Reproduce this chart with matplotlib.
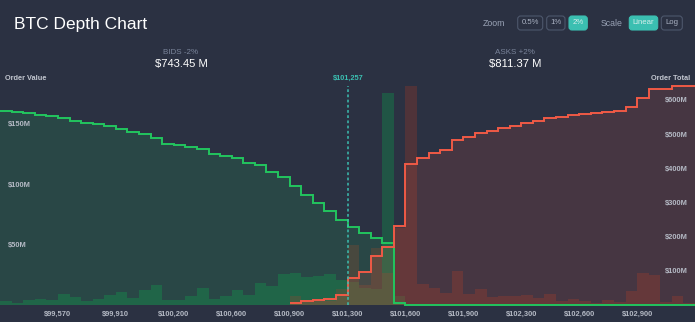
import numpy as np
import matplotlib.pyplot as plt
from matplotlib.patches import FancyBboxPatch

plt.rcParams['font.family'] = ['Liberation Sans', 'DejaVu Sans']

# --- data -------------------------------------------------------------
mid_price = 101257
depth = 0.02          # +/- 2 % window
n_bins = 60

# order value per price bin, $M
bid_vol = [0.85, 0.57, 1.2, 1.3, 1.2, 2.65, 1.9, 1.05, 1.35, 2.3,
           2.95, 1.6, 3.4, 4.6, 1.1, 1.2, 2.2, 4.0, 1.3, 2.1,
           3.5, 2.41, 5.14, 4.51, 7.31, 7.55, 6.47, 6.85, 7.17, 5.77,
           5.3, 3.9, 3.8, 49.6, 2.0] + [0.0] * 25
ask_vol = [0.0] * 25 + [
           7.0, 3.5, 3.0, 3.0, 13.5,
           49.6, 16.5, 47.0, 26.0, 63.0, 180.0, 17.0, 14.0, 10.0, 28.0,
           9.0, 13.0, 6.5, 7.3, 7.6, 8.0, 6.0, 9.0, 3.0, 5.0,
           3.0, 2.0, 4.5, 2.3, 11.5, 26.6, 25.0, 2.3, 7.0, 1.5]

tick_labels = ['$99,570', '$99,910', '$100,200', '$100,600', '$100,900', '$101,300',
               '$101,600', '$101,900', '$102,300', '$102,600', '$102,900']
left_ticks = [50, 100, 150]
right_ticks = [100, 200, 300, 400, 500, 600]

bids_total = '$743.45 M'
asks_total = '$811.37 M'

# --- derived ----------------------------------------------------------
edges = np.linspace(mid_price * (1 - depth), mid_price * (1 + depth), n_bins + 1)
bid_vol = np.array(bid_vol)
ask_vol = np.array(ask_vol)
cum_bid = np.cumsum(bid_vol[::-1])[::-1]
cum_ask = np.cumsum(ask_vol)
first_ask = int(np.argmax(ask_vol > 0))

BG = '#2b3142'
GREEN = '#22c55e'
RED = '#f05a46'
TEAL = '#3bbfb1'
W, H = 695, 322

fig = plt.figure(figsize=(W / 100, H / 100), dpi=100, facecolor=BG)

rect = [0, 17 / H, 1, 225 / H]
ax_l = fig.add_axes(rect)          # green fill, left scale
ax_r = ax_l.twinx()                # red fill, right scale
ax_bb = ax_l.twinx()               # bid bars
ax_ab = ax_l.twinx()               # ask bars
ax_gl = ax_l.twinx()               # green line
ax_rl = ax_l.twinx()               # red line
# bars sit under the cumulative fills, lines on top
for z, a in enumerate([ax_bb, ax_ab, ax_l, ax_r, ax_gl, ax_rl]):
    a.set_zorder(z + 1)
    a.patch.set_visible(False)
    for s in a.spines.values():
        s.set_visible(False)
    a.set_xlim(edges[0], edges[-1])

left_max = 186
right_max = 658
ax_l.set_ylim(0, left_max)
ax_gl.set_ylim(0, left_max)
ax_r.set_ylim(0, right_max)
ax_rl.set_ylim(0, right_max)
ax_bb.set_ylim(0, 52.6)
ax_ab.set_ylim(0, 185)

ax_bb.stairs(bid_vol, edges, fill=True, color='#1a6e48', alpha=0.6, lw=0)
ax_ab.stairs(ask_vol, edges, fill=True, color='#87372d', alpha=0.4, lw=0)
ax_l.stairs(cum_bid, edges, fill=True, color=GREEN, alpha=0.15, lw=0)
ax_r.stairs(cum_ask[first_ask:], edges[first_ask:], fill=True, color=RED, alpha=0.14, lw=0)
ax_gl.stairs(cum_bid, edges, baseline=None, color=GREEN, lw=1.4, clip_on=False)
ax_rl.stairs(cum_ask[first_ask:], edges[first_ask:], baseline=None, color=RED, lw=1.4, clip_on=False)

ax_rl.axvline(mid_price, ymin=0, ymax=(305 - 86) / 225, color=TEAL, lw=1.1,
              ls=(0, (1.8, 1.6)))

# ticks
ax_l.set_xticks(edges[5:n_bins:5])
ax_l.set_xticklabels(tick_labels)
ax_l.tick_params(axis='x', length=0, pad=4, labelsize=5.4, labelcolor='#b4b9c4')
for t in ax_l.get_xticklabels():
    t.set_fontweight('bold')

ax_l.set_yticks(left_ticks)
ax_l.set_yticklabels([f'${v}M' for v in left_ticks])
ax_l.tick_params(axis='y', length=0, pad=-5.8, labelsize=5.4, labelcolor='#b4b9c4')
for t in ax_l.get_yticklabels():
    t.set_horizontalalignment('left')
    t.set_fontweight('bold')

ax_r.set_yticks(right_ticks)
ax_r.set_yticklabels([f'${v}M' for v in right_ticks])
ax_r.tick_params(axis='y', length=0, pad=-5, labelsize=5.4, labelcolor='#b4b9c4')
for t in ax_r.get_yticklabels():
    t.set_horizontalalignment('right')
    t.set_fontweight('bold')
ax_r.tick_params(axis='x', length=0)

for a in [ax_bb, ax_ab, ax_gl, ax_rl]:
    a.set_yticks([])
    a.tick_params(axis='x', length=0, labelbottom=False)


def fx(x):
    return x / W


def fy(y):
    return 1 - y / H


# header texts
fig.text(fx(14), fy(29.5), 'BTC Depth Chart', color='white', fontsize=12.5, va='baseline')
fig.text(fx(181), fy(53.5), 'BIDS -2%', color='#7a849a', fontsize=5.8, ha='center', va='baseline')
fig.text(fx(181), fy(67.5), bids_total, color='white', fontsize=8.1, ha='center', va='baseline')
fig.text(fx(515), fy(53.5), 'ASKS +2%', color='#7a849a', fontsize=5.8, ha='center', va='baseline')
fig.text(fx(515), fy(67.5), asks_total, color='white', fontsize=8.1, ha='center', va='baseline')
fig.text(fx(348), fy(80), '$101,257', color=TEAL, fontsize=5.3, fontweight='bold',
         ha='center', va='baseline')
fig.text(fx(5), fy(79.5), 'Order Value', color='#c3c7d0', fontsize=5.3, fontweight='bold',
         va='baseline')
fig.text(fx(690), fy(79.5), 'Order Total', color='#c3c7d0', fontsize=5.3, fontweight='bold',
         ha='right', va='baseline')

# zoom / scale controls
fig.text(fx(483), fy(26), 'Zoom', color='#9aa3b6', fontsize=6.3, va='baseline')
fig.text(fx(601), fy(26), 'Scale', color='#9aa3b6', fontsize=6.3, va='baseline')

buttons = [('0.5%', 517.7, 542.7, False), ('1%', 546.7, 565, False), ('2%', 569, 587.3, True),
           ('Linear', 629.3, 657.7, True), ('Log', 661.3, 682.3, False)]
for label, x0, x1, active in buttons:
    box = FancyBboxPatch((x0 / 100, (H - 30) / 100), (x1 - x0) / 100, 14 / 100,
                         boxstyle='round,pad=0,rounding_size=0.03',
                         transform=fig.dpi_scale_trans,
                         facecolor=TEAL if active else 'none',
                         edgecolor=TEAL if active else '#4d576c', lw=0.8)
    fig.add_artist(box)
    fig.text(fx((x0 + x1) / 2), fy(23), label, color='#d6eeec' if active else '#aab2c2',
             fontsize=5.6, ha='center', va='center')

fig.savefig('out.png', dpi=100, facecolor=BG)
